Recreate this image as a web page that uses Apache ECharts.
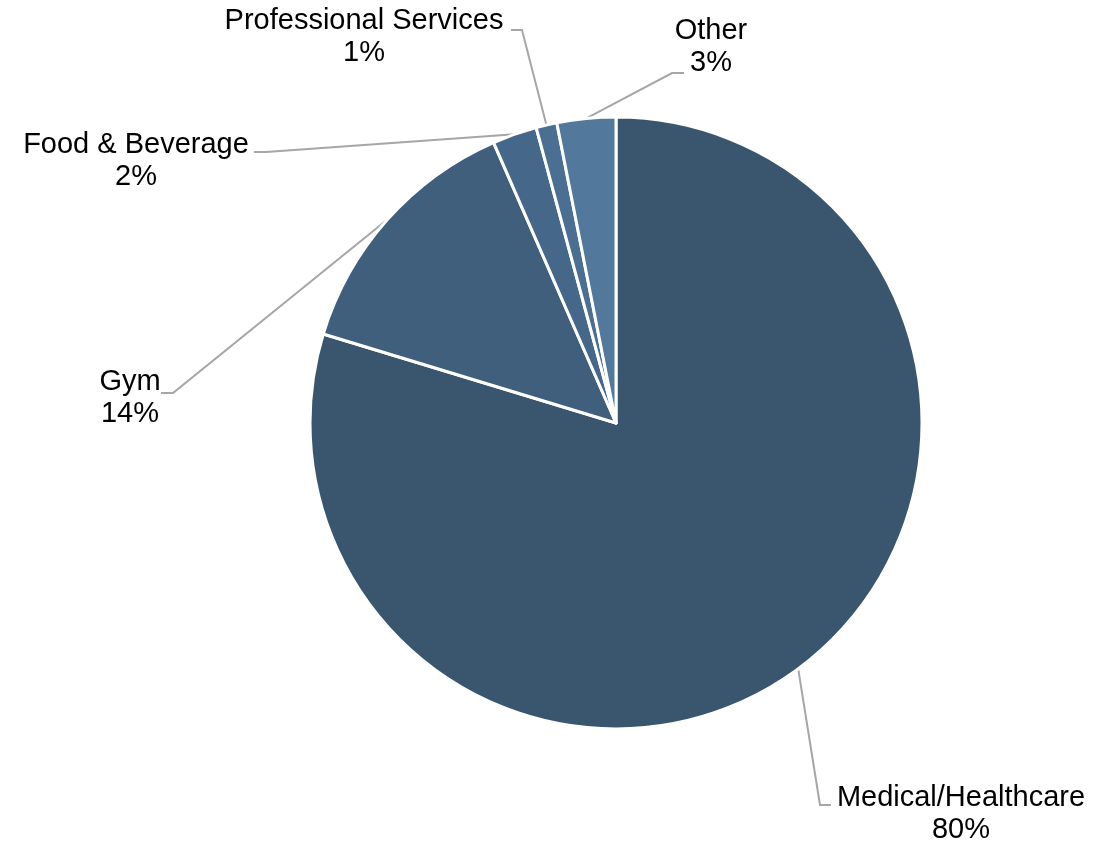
<!DOCTYPE html>
<html>
<head>
<meta charset="utf-8">
<script src="https://cdn.jsdelivr.net/npm/echarts@6/dist/echarts.min.js"></script>
<style>html,body{margin:0;padding:0;background:#fff;}#chart{width:1117px;height:842px;}</style>
</head>
<body>
<div id="chart"></div>
<script>
// Data
var categories = ['Medical/Healthcare', 'Gym', 'Food & Beverage', 'Professional Services', 'Other'];
var shares = [79.7, 13.75, 2.35, 1.1, 3.1];

// Styling / layout (not data)
var sliceColors = ['#3a566f', '#3f5f7c', '#45688a', '#4a6f92', '#52799b'];
// label block centres and leader-line elbow/end points (pixels)
var labelAnchors = [
  {x: 961, y: 814, elbow: [820, 805], end: [831, 805]},
  {x: 130, y: 398, elbow: [173, 393], end: [161, 393]},
  {x: 136, y: 161, elbow: [266, 152], end: [254, 152]},
  {x: 364, y: 37,  elbow: [522, 30],  end: [511, 30]},
  {x: 711, y: 47,  elbow: [672, 73],  end: [684, 73]}
];

var chart = echarts.init(document.getElementById('chart'), null, {renderer: 'canvas'});
chart.setOption({
  backgroundColor: '#ffffff',
  animation: false,
  series: [{
    type: 'pie',
    center: [616, 423],
    radius: 306,
    startAngle: 90,
    clockwise: true,
    avoidLabelOverlap: false,
    data: categories.map(function (c, i) {
      return {name: c, value: shares[i], itemStyle: {color: sliceColors[i]}};
    }),
    itemStyle: {borderColor: '#ffffff', borderWidth: 3},
    label: {
      show: true,
      position: 'outside',
      color: '#000000',
      fontFamily: 'Liberation Sans, Arial, sans-serif',
      fontSize: 29,
      lineHeight: 32,
      align: 'center',
      formatter: function (p) { return p.name + '\n' + Math.round(p.percent) + '%'; }
    },
    labelLine: {
      show: true,
      length: 20,
      length2: 10,
      lineStyle: {color: '#a6a6a6', width: 2}
    },
    labelLayout: function (params) {
      var a = labelAnchors[params.dataIndex];
      var p0 = params.labelLinePoints ? params.labelLinePoints[0] : a.elbow;
      return {
        x: a.x,
        y: a.y,
        align: 'center',
        verticalAlign: 'middle',
        labelLinePoints: [p0, a.elbow, a.end]
      };
    }
  }]
});
</script>
</body>
</html>
